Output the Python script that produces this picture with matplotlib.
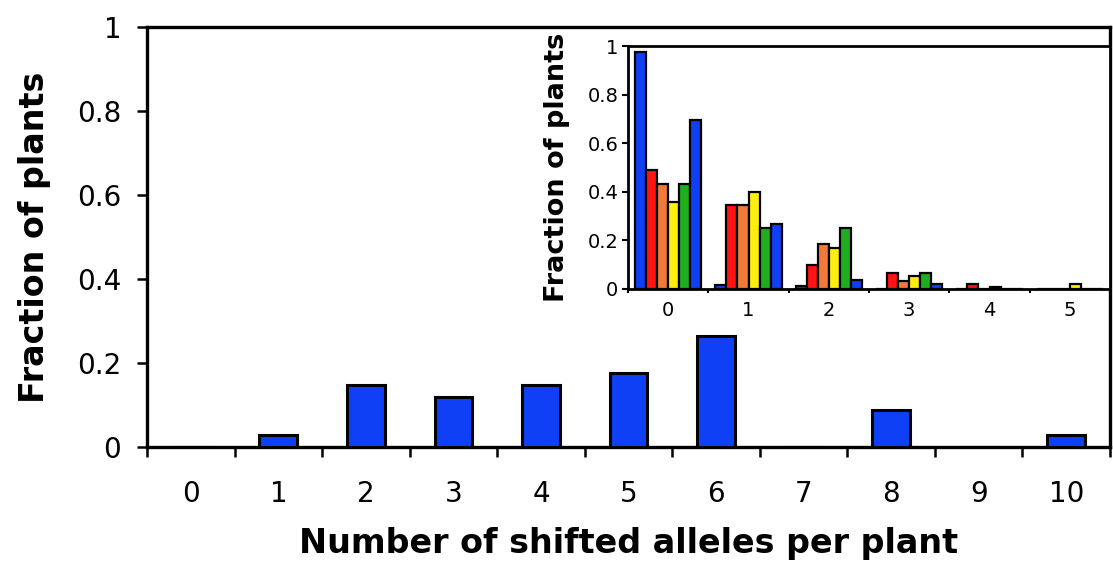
import numpy as np
import matplotlib
matplotlib.use("Agg")
import matplotlib.pyplot as plt

# Main histogram: fraction of plants by number of shifted alleles
allele_counts = [0, 1, 2, 3, 4, 5, 6, 7, 8, 9, 10]
plant_fraction = [0.0, 0.029, 0.147, 0.118, 0.147, 0.176, 0.265, 0.0, 0.088, 0.0, 0.029]

# Inset: six series per allele count
inset_counts = [0, 1, 2, 3, 4, 5]
series_navy = [0.975, 0.018, 0.011, 0.0, 0.0, 0.0]
series_red = [0.489, 0.345, 0.099, 0.064, 0.02, 0.0]
series_orange = [0.434, 0.345, 0.185, 0.032, 0.0, 0.0]
series_yellow = [0.357, 0.398, 0.168, 0.053, 0.008, 0.02]
series_green = [0.434, 0.249, 0.249, 0.064, 0.0, 0.0]
series_blue = [0.695, 0.266, 0.038, 0.02, 0.0, 0.0]

y_ticks = [0, 0.2, 0.4, 0.6, 0.8, 1.0]
y_tick_labels = ["0", "0.2", "0.4", "0.6", "0.8", "1"]

BLUE = "#1040f5"
plt.rcParams["font.family"] = ["DejaVu Sans"]

fig = plt.figure(figsize=(11.13, 5.69), dpi=100)
fig.patch.set_facecolor("white")

# ---- main axes ----
ax = fig.add_axes([147 / 1113, 1 - 447 / 569, 963 / 1113, 420 / 569])
ax.bar(allele_counts, plant_fraction, width=0.43, color=BLUE,
       edgecolor="black", linewidth=2.2, zorder=3)
ax.set_xlim(-0.5, 10.5)
ax.set_ylim(0, 1)
for s in ax.spines.values():
    s.set_linewidth(2.4)
ax.set_yticks(y_ticks)
ax.set_yticklabels(y_tick_labels, fontsize=20)
ax.tick_params(axis="y", direction="out", length=7.5, width=1.8, pad=11)
# boundary ticks, labels centered on categories
ax.set_xticks(np.arange(-0.5, 10.6, 1.0))
ax.set_xticklabels([])
ax.set_xticks(allele_counts, minor=True)
ax.set_xticklabels([str(c) for c in allele_counts], minor=True, fontsize=20)
ax.tick_params(axis="x", which="major", direction="out", length=7.5, width=1.8)
ax.tick_params(axis="x", which="minor", length=0, pad=24)
ax.set_xlabel("Number of shifted alleles per plant", fontsize=24, fontweight="bold")
ax.xaxis.set_label_coords(0.5, -0.19)
ax.set_ylabel("Fraction of plants", fontsize=24, fontweight="bold")
ax.yaxis.set_label_coords(-0.1, 0.5)

# ---- inset axes ----
ins = fig.add_axes([628 / 1113, 1 - 289 / 569, 482 / 1113, 243 / 569])
ins.set_facecolor("white")
inset_series = [series_navy, series_red, series_orange,
                series_yellow, series_green, series_blue]
inset_colors = [BLUE, "#ff1414", "#f07a3a", "#ffee10", "#1fae1f", BLUE]
bw = 0.137
x = np.array(inset_counts, dtype=float)
for i, (vals, col) in enumerate(zip(inset_series, inset_colors)):
    ins.bar(x + (i - 2.5) * bw, vals, width=bw, color=col,
            edgecolor="black", linewidth=1.6, zorder=3)
ins.set_xlim(-0.5, 5.5)
ins.set_ylim(0, 1)
for s in ins.spines.values():
    s.set_linewidth(2.0)
ins.set_yticks(y_ticks)
ins.set_yticklabels(y_tick_labels, fontsize=14)
ins.tick_params(axis="y", direction="out", length=4, width=1.5, pad=3)
ins.set_xticks(np.arange(-0.5, 5.6, 1.0))
ins.set_xticklabels([])
ins.set_xticks(inset_counts, minor=True)
ins.set_xticklabels([str(c) for c in inset_counts], minor=True, fontsize=14)
ins.tick_params(axis="x", which="major", direction="out", length=3, width=1.5)
ins.tick_params(axis="x", which="minor", length=0, pad=9)
ins.set_ylabel("Fraction of plants", fontsize=19.5, fontweight="bold")
ins.yaxis.set_label_coords(-0.12, 0.5)

fig.savefig("out.png", dpi=100, facecolor="white")
